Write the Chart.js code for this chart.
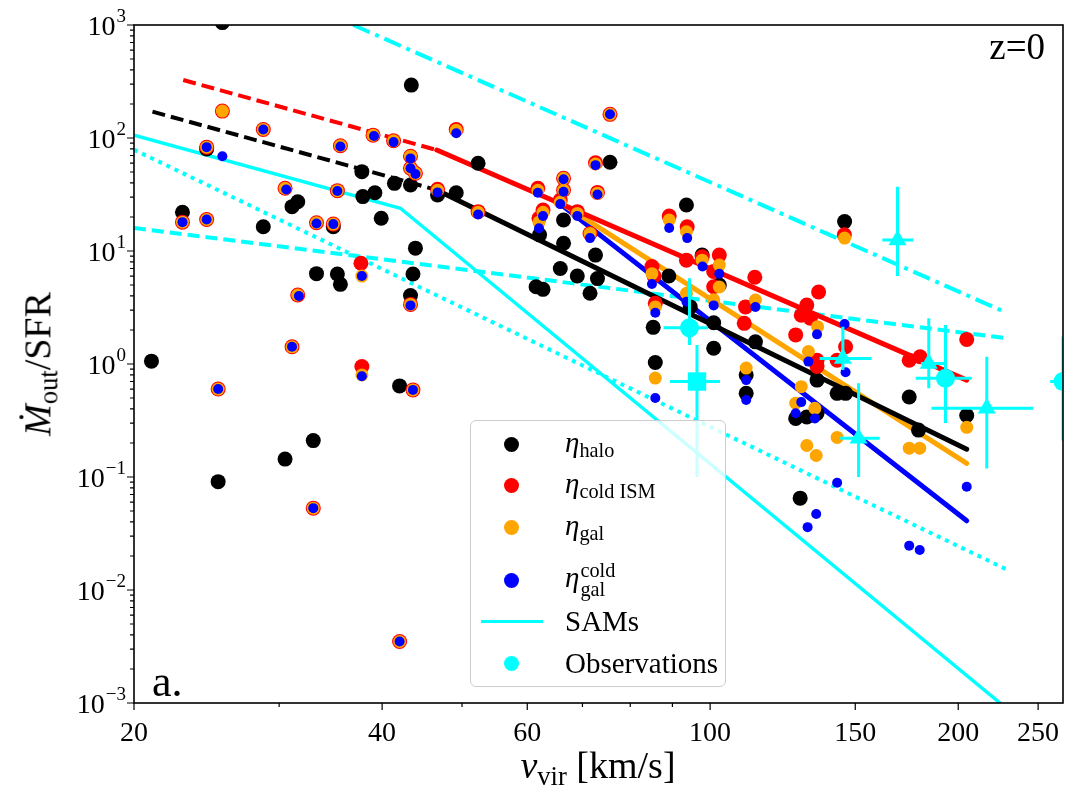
<!DOCTYPE html>
<html>
<head>
<meta charset="utf-8">
<script src="https://cdn.jsdelivr.net/npm/chart.js@4.4.0/dist/chart.umd.min.js"></script>
<style>
body{margin:0;background:#fff;}
#wrap{position:relative;width:1087px;height:806px;font-family:"Liberation Serif","DejaVu Serif",serif;color:#000;}
#c{position:absolute;left:0;top:0;}
.txt{position:absolute;white-space:nowrap;line-height:1;}
sub{font-size:0.7em;vertical-align:-0.25em;}
.leg{position:absolute;left:470px;top:420px;width:256px;height:267px;border:1.3px solid #ccc;border-radius:6px;background:rgba(255,255,255,0.8);box-sizing:border-box;}
.row{position:absolute;left:0;height:40px;width:100%;}
.mk{position:absolute;left:33px;top:12.5px;width:15px;height:15px;border-radius:50%;}
.ln{position:absolute;left:10px;top:18.5px;width:62px;height:3px;background:#00ffff;}
.lab{position:absolute;left:94px;top:0;height:40px;display:flex;align-items:center;font-size:29px;white-space:nowrap;}
.ss{display:inline-flex;flex-direction:column;font-size:0.7em;line-height:0.95;vertical-align:middle;margin-left:1px;}
</style>
</head>
<body>
<div id="wrap">
<canvas id="c" width="1087" height="806"></canvas>
<div class="txt" style="left:40px;top:364px;transform:translate(-50%,-50%) rotate(-90deg);font-size:38px;"><i>Ṁ</i><sub>out</sub>/SFR</div>
<div class="txt" style="left:598px;top:768px;transform:translate(-50%,-50%);font-size:38px;"><i>v</i><sub>vir</sub> [km/s]</div>
<div class="txt" style="right:42px;top:28px;font-size:37px;">z=0</div>
<div class="txt" style="left:152px;top:660px;font-size:44px;">a.</div>
<div class="leg">
  <div class="row" style="top:3px"><span class="mk" style="background:#000"></span><span class="lab"><span><i>η</i><sub>halo</sub></span></span></div>
  <div class="row" style="top:44px"><span class="mk" style="background:#f00"></span><span class="lab"><span><i>η</i><sub>cold ISM</sub></span></span></div>
  <div class="row" style="top:86px"><span class="mk" style="background:#ffa500"></span><span class="lab"><span><i>η</i><sub>gal</sub></span></span></div>
  <div class="row" style="top:139px"><span class="mk" style="background:#00f"></span><span class="lab"><span><i>η</i><span class="ss"><span>cold</span><span>gal</span></span></span></span></div>
  <div class="row" style="top:180px"><span class="ln"></span><span class="lab">SAMs</span></div>
  <div class="row" style="top:222px"><span class="mk" style="background:#0ff"></span><span class="lab">Observations</span></div>
</div>
</div>
<script>
// simulated galaxies: [v_vir, Mdot_out/SFR]
var haloPts = [[21.0,1.06],[25.6,1050],[22.9,22],[24.5,80],[25.3,0.091],[28.7,16.4],[31.1,24.7],[31.6,27.3],
  [30.5,0.144],[33.0,0.21],[33.3,6.3],[35.3,6.25],[35.6,5.07],[34.9,16.4],[37.8,50.4],[37.9,30.3],[39.2,32.8],
  [39.9,19.5],[41.4,39.7],[43.4,294],[43.3,38.4],[43.9,10.6],[43.6,6.25],[43.3,4.03],[42.0,0.64],[46.7,31.3],
  [49.2,32.8],[52.3,59.7],[62.1,13.9],[66.4,18.8],[66.4,11.7],[72.6,9.2],[65.8,7.0],[69.0,6.0],[73.0,5.7],
  [61.5,4.83],[62.7,4.58],[71.5,4.23],[75.6,61],[93.6,25.5],[89.1,6.0],[97.8,9.2],[102.6,5.0],[145.6,18.2],
  [85.3,2.11],[101,2.32],[101,1.38],[85.8,1.03],[94.6,3.2],[113.5,1.57],[110.6,0.55],[110.6,0.80],[127,0.33],
  [131,0.34],[134.8,0.366],[134.8,0.72],[142.6,0.55],[146,0.55],[128.6,0.065],[174.4,0.51],[179,0.26],[204.8,0.35]];
var coldIsmPts = [[25.6,173],[24.5,83],[22.9,18],[24.5,19],[28.7,119],[35.6,85.5],[39.0,106],[41.3,94.6],
  [43.3,69],[43.3,54],[43.9,48.7],[30.5,35.9],[35.3,34.2],[33.3,17.8],[34.9,17.3],[37.7,7.8],[31.6,4.08],
  [31.1,1.42],[37.8,0.95],[25.3,0.60],[43.6,0.59],[43.3,3.37],[33.0,0.053],[42.0,0.0035],[46.7,35.2],
  [49.2,119],[52.3,22.3],[75.6,162],[72.6,60.4],[73.0,33],[61.8,35.9],[66.4,44],[66.4,34.7],[65.8,28.2],
  [62.7,23],[62.0,19.5],[69.0,22.3],[71.5,14.3],[89.2,20.4],[93.8,16.4],[93.6,8.3],[97.8,8.9],[102.6,9.2],
  [85.0,7.3],[85.5,6.0],[101,6.6],[101,4.83],[113.3,5.85],[135.4,4.34],[145.5,13.9],[110.4,3.2],[110,2.29],
  [85.8,3.44],[131,3.33],[129,2.7],[132.3,2.54],[127,1.81],[134.8,1.08],[134.8,0.95],[146,1.42],[142.6,1.08],
  [204.8,1.65],[174.4,1.08],[179.8,1.16]];
var galPts = [[25.6,173],[24.5,83],[22.9,18],[24.5,19],[28.7,119],[35.6,85.5],[39.0,106],[41.3,94.6],
  [43.3,69],[43.3,54],[43.9,48.7],[30.5,35.9],[35.3,34.2],[33.3,17.8],[34.9,17.3],[37.8,6.0],[31.6,4.08],
  [31.1,1.42],[37.8,0.80],[25.3,0.60],[43.6,0.59],[43.3,3.37],[33.0,0.053],[42.0,0.0035],[46.7,34.5],
  [49.2,117],[52.3,22],[75.6,162],[72.6,59],[73.0,32.5],[61.8,34.5],[66.4,44],[66.4,34.5],[65.8,27],
  [62.7,22],[62.0,18],[69.0,21.5],[71.5,14.3],[89.2,18.8],[93.6,14.8],[97.8,8.3],[102.6,7.5],[102.6,4.8],
  [93.6,4.23],[85,6.3],[85.8,3.2],[113.5,3.68],[110.6,0.92],[85.8,0.75],[131.6,1.29],[135,2.14],[129,0.63],
  [127,0.45],[134,0.405],[142.6,0.224],[131,0.19],[134.5,0.155],[174.4,0.18],[179.6,0.18],[204.8,0.275],
  [145.6,13.0],[101,3.7]];
var galColdPts = [[22.9,18],[24.5,83],[24.5,19],[25.6,69],[28.7,119],[30.6,35],[31.7,4.0],[33.3,17.5],
  [34.9,17.3],[35.3,34],[35.6,84],[37.8,6.0],[39.1,104],[41.3,92],[43.3,66],[43.3,54],[43.9,48],[46.7,33],
  [49.2,110],[52.3,21],[31.1,1.42],[37.8,0.78],[25.3,0.60],[43.6,0.59],[43.3,3.3],[33.0,0.053],[42.0,0.0035],
  [61.8,32.8],[66.4,43.2],[66.4,33.4],[65.8,26],[62.7,20.4],[62.0,15.9],[69.0,20.4],[71.5,13],[72.6,57.5],
  [73.0,31.6],[75.6,162],[89.2,16],[93.8,13],[85,5.1],[97.9,7.3],[102.6,6.3],[93.6,3.56],[101,3.3],[85.8,2.84],
  [85.8,0.50],[110.6,0.72],[110.6,0.48],[113.5,3.2],[131.6,1.05],[145.6,2.26],[134.8,1.83],[146,0.845],
  [129,0.46],[127,0.366],[134,0.33],[142.6,0.089],[204.8,0.082],[134.5,0.047],[131.3,0.036],[174.4,0.0247],
  [179.6,0.0226]];

// fits
var haloFitDash = [[21.06,171],[46.6,34.7]];
var haloFit = [[46.6,34.7],[204.8,0.176]];
var coldIsmFitDash = [[22.95,326],[46.6,78.3]];
var coldIsmFit = [[46.6,78.3],[204.8,0.72]];
var galFit = [[65.0,28.4],[204.8,0.132]];
var galColdFit = [[65.0,27.9],[204.8,0.041]];

// semi-analytic models
var samSolid = [[20,106],[42.1,23.9],[224.8,0.001]];
var samDashed = [[20,16],[229,1.69]];
var samDotted = [[20,78.8],[229,0.0152]];
var samDashDot = [[36.9,1000],[229,2.84]];

// observations
var obsCircX = [94.4,193,268], obsCircY = [2.09,0.747,0.70];
var obsSqX = [96.4], obsSqY = [0.70];
var obsTriX = [168.8,144.9,184.2,216.6,151.4], obsTriY = [12.5,1.12,1.01,0.406,0.22];
var errX   = [94.4,193,268,96.4,168.8,144.9,184.2,216.6,151.4];
var errY   = [2.09,0.747,0.70,0.70,12.5,1.12,1.01,0.406,0.22];
var errXlo = [87.8,177.6,258.6,89.4,161.8,135.8,180.2,185.6,143.8];
var errXhi = [99.4,207.7,290,102.8,176.4,157,192.9,246.6,160.6];
var errYlo = [1.47,0.30,0.21,0.10,6.0,0.885,0.61,0.119,0.10];
var errYhi = [5.73,2.21,1.75,1.47,37,2.14,2.54,1.16,0.675];

var xTicks = [20,40,60,100,150,200,250];
var xMinor = [30,50,70,80,90];

var CY = '#00ffff';
function xy(a){ return a.map(function(p){ return {x:p[0], y:p[1]}; }); }
function pts(a, b){ return a.map(function(v,i){ return {x:v, y:b[i]}; }); }

var errData = [];
for (var i = 0; i < errX.length; i++) {
  errData.push({x:errXlo[i], y:errY[i]}, {x:errXhi[i], y:errY[i]}, {x:errX[i], y:null});
  errData.push({x:errX[i], y:errYlo[i]}, {x:errX[i], y:errYhi[i]}, {x:errX[i], y:null});
}

function lineDs(p, color, w, dash, order, cap){
  return {data:xy(p), showLine:true, borderColor:color, borderWidth:w, borderDash:dash||[],
    pointRadius:0, fill:false, order:order, borderCapStyle:cap||'butt'};
}
function dotDs(d, color, r, order, style){
  return {data:d, showLine:false, pointRadius:r, pointHoverRadius:r, pointBackgroundColor:color,
    pointBorderColor:color, pointBorderWidth:0, pointStyle:style||'circle', order:order};
}

var frame = {
  id:'frame',
  afterDraw: function(chart){
    var ctx = chart.ctx, a = chart.chartArea, xs = chart.scales.x, ys = chart.scales.y;
    ctx.save();
    ctx.strokeStyle = '#000';
    ctx.lineWidth = 1.6;
    ctx.strokeRect(a.left, a.top, a.right - a.left, a.bottom - a.top);
    ctx.lineWidth = 1.2;
    ctx.beginPath();
    xTicks.forEach(function(v){ var p = xs.getPixelForValue(v); ctx.moveTo(p, a.bottom); ctx.lineTo(p, a.bottom + 7); });
    xMinor.forEach(function(v){ var p = xs.getPixelForValue(v); ctx.moveTo(p, a.bottom); ctx.lineTo(p, a.bottom + 4); });
    for (var e = -3; e <= 3; e++) {
      var p = ys.getPixelForValue(Math.pow(10, e));
      ctx.moveTo(a.left, p); ctx.lineTo(a.left - 7, p);
      if (e < 3) for (var m = 2; m <= 9; m++) {
        var q = ys.getPixelForValue(m * Math.pow(10, e));
        ctx.moveTo(a.left, q); ctx.lineTo(a.left - 4, q);
      }
    }
    ctx.stroke();
    ctx.fillStyle = '#000';
    for (var e2 = -3; e2 <= 3; e2++) {
      var y = ys.getPixelForValue(Math.pow(10, e2));
      var ex = (e2 < 0 ? '\u2212' : '') + Math.abs(e2);
      ctx.font = '19px "Liberation Serif"';
      var w = ctx.measureText(ex).width;
      var right = a.left - 8;
      ctx.textAlign = 'left'; ctx.textBaseline = 'alphabetic';
      ctx.fillText(ex, right - w, y - 3);
      ctx.font = '28px "Liberation Serif"';
      ctx.textAlign = 'right';
      ctx.fillText('10', right - w - 1, y + 9.5);
    }
    ctx.restore();
  }
};

new Chart(document.getElementById('c'), {
  type:'scatter',
  data:{datasets:[
    lineDs(samSolid, CY, 3.5, [], 20),
    lineDs(samDashed, CY, 4, [12,6], 20),
    lineDs(samDotted, CY, 4, [4,5], 20),
    lineDs(samDashDot, CY, 4, [18,6,4,6], 20),
    lineDs(haloFitDash, '#000', 4, [13,6], 15),
    lineDs(coldIsmFitDash, '#f00', 4, [13,6], 15),
    lineDs(haloFit, '#000', 5, [], 15, 'round'),
    lineDs(coldIsmFit, '#f00', 5, [], 15, 'round'),
    lineDs(galFit, '#ffa500', 5, [], 15, 'round'),
    lineDs(galColdFit, '#00f', 5, [], 15, 'round'),
    dotDs(xy(haloPts), '#000', 7.5, 10),
    dotDs(xy(coldIsmPts), '#f00', 7.5, 9),
    dotDs(xy(galPts), '#ffa500', 6.5, 8),
    dotDs(xy(galColdPts), '#00f', 5, 7),
    {data:errData, showLine:true, spanGaps:false, borderColor:CY, borderWidth:3, pointRadius:0, order:3},
    dotDs(pts(obsCircX, obsCircY), CY, 9.5, 2, 'circle'),
    dotDs(pts(obsSqX, obsSqY), CY, 13, 2, 'rect'),
    dotDs(pts(obsTriX, obsTriY), CY, 10.4, 2, 'triangle')
  ]},
  options:{
    responsive:false, animation:false, devicePixelRatio:1,
    layout:{padding:{top:25, right:24, left:0, bottom:0}},
    plugins:{legend:{display:false}, tooltip:{enabled:false}},
    scales:{
      x:{type:'logarithmic', min:20, max:268, grid:{display:false}, border:{display:false},
        afterBuildTicks:function(s){ s.ticks = xTicks.map(function(v){ return {value:v}; }); },
        afterFit:function(s){ s.height = 103; },
        ticks:{autoSkip:false, maxRotation:0, padding:6, color:'#000',
          font:{family:'Liberation Serif', size:28},
          callback:function(v){ return String(v); }}},
      y:{type:'logarithmic', min:0.001, max:1000, grid:{display:false}, border:{display:false},
        ticks:{display:false},
        afterFit:function(s){ s.width = 134; }}
    }
  },
  plugins:[frame]
});
</script>
</body>
</html>
